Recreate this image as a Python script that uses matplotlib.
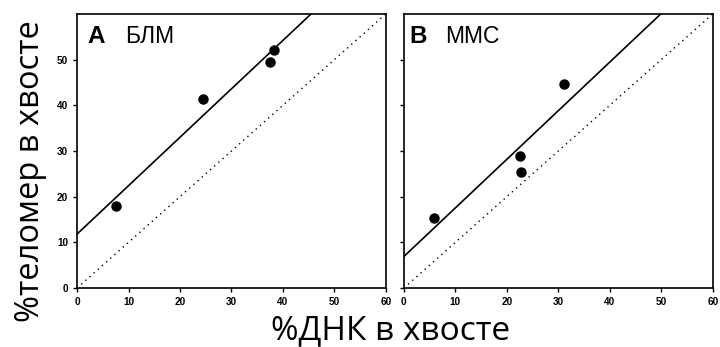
import matplotlib
matplotlib.use("Agg")
import matplotlib.pyplot as plt
from matplotlib.font_manager import FontProperties
import numpy as np

# Panel A (БЛМ)
a_dna = [7.5, 24.5, 37.5, 38.3]
a_tel = [18.0, 41.3, 49.5, 52.2]
a_fit_intercept = 11.8
a_fit_slope = 1.06

# Panel B (ММС)
b_dna = [5.9, 22.5, 22.8, 31.0]
b_tel = [15.3, 29.0, 25.4, 44.6]
b_fit_intercept = 6.9
b_fit_slope = 1.064

ticks = [0, 10, 20, 30, 40, 50, 60]
panel_letters = ["A", "B"]
panel_names = ["БЛМ", "ММС"]
xlabel = "%ДНК в хвосте"
ylabel = "%теломер в хвосте"

fig = plt.figure(figsize=(7.2, 3.47), dpi=100)
axA = fig.add_axes([0.107, 0.170, 0.429, 0.790])
axB = fig.add_axes([0.561, 0.170, 0.429, 0.790])

tickfp = FontProperties(family="Liberation Sans", weight="bold", size=7.2)

letter_x = [0.034, 0.018]
name_x = [0.155, 0.133]

datasets = [(axA, a_dna, a_tel, a_fit_intercept, a_fit_slope),
            (axB, b_dna, b_tel, b_fit_intercept, b_fit_slope)]
for i, (ax, xs, ys, b0, b1) in enumerate(datasets):
    ax.set_xlim(0, 60)
    ax.set_ylim(0, 60)
    xx = np.array([0, 60])
    ax.plot(xx, xx, linestyle=(0, (1, 3)), color="black", lw=1.0)
    ax.plot(xx, b0 + b1 * xx, color="black", lw=1.2)
    ax.plot(xs, ys, "o", color="black", markersize=6.5)
    ax.set_xticks(ticks)
    ax.set_yticks(ticks[:-1])
    ax.tick_params(direction="out", length=3, width=1, pad=3.5)
    for lab in ax.get_xticklabels() + ax.get_yticklabels():
        lab.set_fontproperties(tickfp)
    if i == 1:
        ax.set_yticklabels([])
    for s in ax.spines.values():
        s.set_linewidth(1.2)
    ax.text(letter_x[i], 0.894, panel_letters[i], transform=ax.transAxes, ha="left", va="baseline",
            fontsize=17.5, fontweight="bold", family="Liberation Sans")
    ax.text(name_x[i], 0.894, panel_names[i], transform=ax.transAxes, ha="left", va="baseline",
            fontsize=16.5, family="Liberation Sans")

fig.text(0.542, 0.0, xlabel, ha="center", va="bottom", fontsize=24, family="Open Sans")
fig.text(0.042, 0.507, ylabel, ha="center", va="center", rotation=90, fontsize=23.5, family="Open Sans")

fig.savefig("out.png", dpi=100)
